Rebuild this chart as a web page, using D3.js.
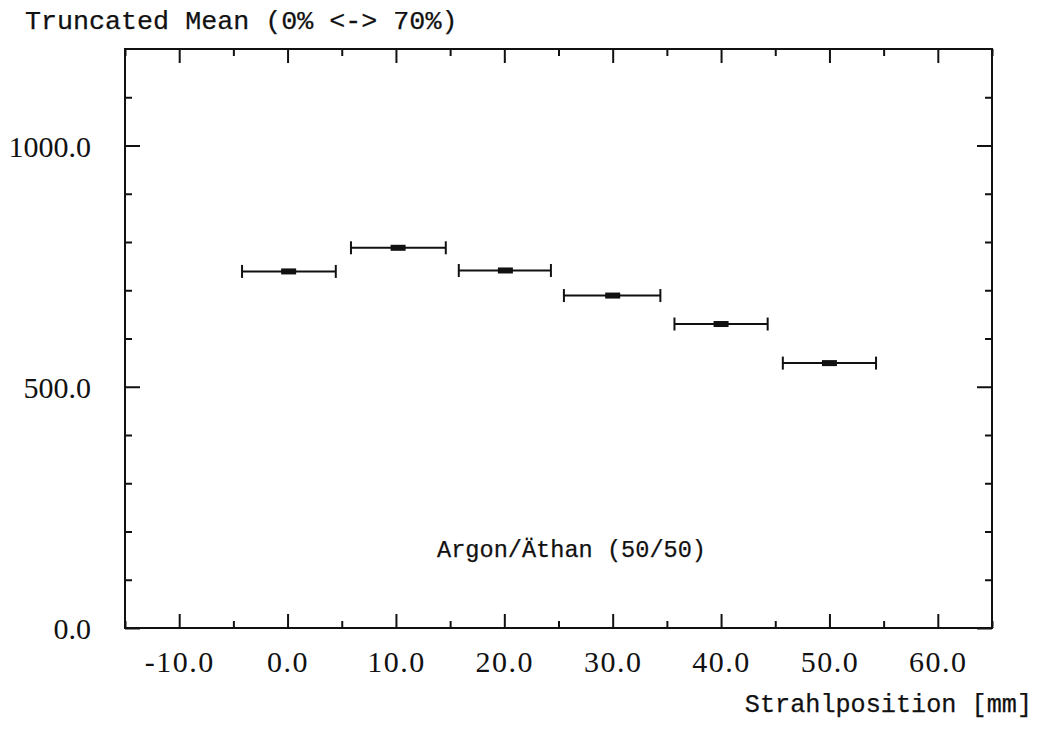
<!DOCTYPE html>
<html>
<head>
<meta charset="utf-8">
<script src="https://cdn.jsdelivr.net/npm/d3@7"></script>
<style>
  html, body { margin: 0; padding: 0; background: #fff; }
  svg { display: block; }
  .mono { font-family: "Liberation Mono", "Courier New", monospace; fill: #111; stroke: #111; stroke-width: 0.25px; }
  .tick text { font-family: "Liberation Serif", "Times New Roman", serif; font-size: 30px; fill: #111; }
  .xaxis .tick text { letter-spacing: 1.5px; }
  .tick line { stroke: #111; stroke-width: 2px; }
</style>
</head>
<body>
<svg id="chart" width="1038" height="731"></svg>
<script>
// Beam position scan: truncated mean signal per position
const positions = [0.1, 10.2, 20.1, 30.0, 40.0, 50.0];
const xLow      = [-4.2, 5.85, 15.8, 25.5, 35.7, 45.7];
const xHigh     = [4.45, 14.6, 24.3, 34.4, 44.3, 54.3];
const means     = [739, 788, 741, 689, 630, 549];

const xMajorTicks = [-10, 0, 10, 20, 30, 40, 50, 60];
const xMinorTicks = [-15, -5, 5, 15, 25, 35, 45, 55, 65];
const yMajorTicks = [0, 500, 1000];
const yMinorTicks = [100, 200, 300, 400, 600, 700, 800, 900, 1100];

const titleText = "Truncated Mean (0% <-> 70%)";
const xLabelText = "Strahlposition [mm]";
const noteText = "Argon/Äthan (50/50)";

const svg = d3.select("#chart");
const plotL = 125, plotR = 992, plotT = 49, plotB = 628;

const x = d3.scaleLinear().domain([-15, 65]).range([plotL, plotR]);
const y = d3.scaleLinear().domain([0, 1200]).range([plotB, plotT]);

const fmt = d => d.toFixed(1);

// Bottom axis: major ticks with labels, minor ticks without
svg.append("g").attr("class", "xaxis").attr("transform", `translate(0,${plotB})`)
  .call(d3.axisBottom(x).tickValues(xMajorTicks).tickSize(-14).tickPadding(23).tickFormat(fmt))
  .call(g => g.select(".domain").remove());
svg.append("g").attr("transform", `translate(0,${plotB})`)
  .call(d3.axisBottom(x).tickValues(xMinorTicks).tickSize(-7).tickFormat(""))
  .call(g => g.select(".domain").remove());

// Top axis
svg.append("g").attr("transform", `translate(0,${plotT})`)
  .call(d3.axisTop(x).tickValues(xMajorTicks).tickSize(-14).tickFormat(""))
  .call(g => g.select(".domain").remove());
svg.append("g").attr("transform", `translate(0,${plotT})`)
  .call(d3.axisTop(x).tickValues(xMinorTicks).tickSize(-7).tickFormat(""))
  .call(g => g.select(".domain").remove());

// Left axis
svg.append("g").attr("transform", `translate(${plotL},0)`)
  .call(d3.axisLeft(y).tickValues(yMajorTicks).tickSize(-15).tickPadding(34).tickFormat(fmt))
  .call(g => g.select(".domain").remove())
  .call(g => g.selectAll("text").attr("dy", "0.36em"));
svg.append("g").attr("transform", `translate(${plotL},0)`)
  .call(d3.axisLeft(y).tickValues(yMinorTicks).tickSize(-7).tickFormat(""))
  .call(g => g.select(".domain").remove());

// Right axis
svg.append("g").attr("transform", `translate(${plotR},0)`)
  .call(d3.axisRight(y).tickValues(yMajorTicks).tickSize(-15).tickFormat(""))
  .call(g => g.select(".domain").remove());
svg.append("g").attr("transform", `translate(${plotR},0)`)
  .call(d3.axisRight(y).tickValues(yMinorTicks).tickSize(-7).tickFormat(""))
  .call(g => g.select(".domain").remove());

// Frame
svg.append("rect")
  .attr("x", plotL).attr("y", plotT)
  .attr("width", plotR - plotL).attr("height", plotB - plotT)
  .attr("fill", "none").attr("stroke", "#111").attr("stroke-width", 2);

// Horizontal error bars with end caps and a filled centre marker
const pts = positions.map((p, i) => ({ p, lo: xLow[i], hi: xHigh[i], m: means[i] }));
const g = svg.append("g").attr("stroke", "#111").attr("fill", "#111");
const capH = 13;
g.selectAll("line.bar").data(pts).join("line").attr("class", "bar")
  .attr("x1", d => x(d.lo)).attr("x2", d => x(d.hi))
  .attr("y1", d => y(d.m)).attr("y2", d => y(d.m))
  .attr("stroke-width", 2);
g.selectAll("line.capl").data(pts).join("line").attr("class", "capl")
  .attr("x1", d => x(d.lo)).attr("x2", d => x(d.lo))
  .attr("y1", d => y(d.m) - capH / 2).attr("y2", d => y(d.m) + capH / 2)
  .attr("stroke-width", 2);
g.selectAll("line.capr").data(pts).join("line").attr("class", "capr")
  .attr("x1", d => x(d.hi)).attr("x2", d => x(d.hi))
  .attr("y1", d => y(d.m) - capH / 2).attr("y2", d => y(d.m) + capH / 2)
  .attr("stroke-width", 2);
g.selectAll("rect.mark").data(pts).join("rect").attr("class", "mark")
  .attr("x", d => x(d.p) - 7.5).attr("y", d => y(d.m) - 3)
  .attr("width", 15).attr("height", 6).attr("stroke", "none");

// Texts
svg.append("text").attr("class", "mono")
  .attr("x", 25).attr("y", 29).attr("font-size", 26.7)
  .text(titleText);
svg.append("text").attr("class", "mono")
  .attr("x", 1032).attr("y", 712).attr("text-anchor", "end").attr("font-size", 25.2)
  .text(xLabelText);
svg.append("text").attr("class", "mono")
  .attr("x", 437).attr("y", 557).attr("font-size", 23.6)
  .text(noteText);
</script>
</body>
</html>
